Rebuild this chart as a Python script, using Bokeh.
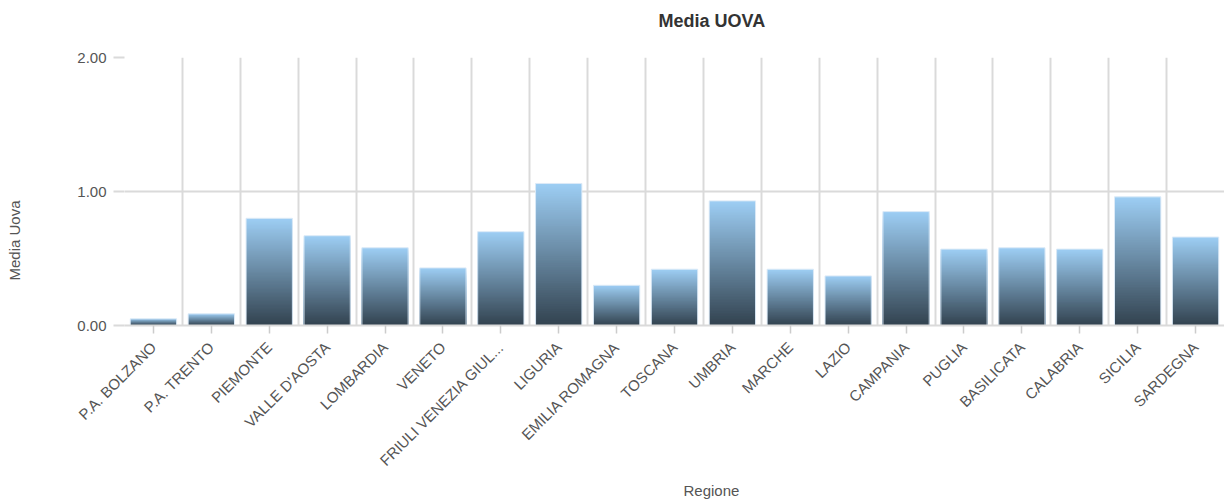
from math import pi
from bokeh.plotting import figure
from bokeh.models import FixedTicker, PrintfTickFormatter, Range1d, Title
from bokeh.embed import file_html
from bokeh.resources import INLINE

regions = ["P.A. BOLZANO", "P.A. TRENTO", "PIEMONTE", "VALLE D'AOSTA", "LOMBARDIA",
           "VENETO", "FRIULI VENEZIA GIUL...", "LIGURIA", "EMILIA ROMAGNA", "TOSCANA",
           "UMBRIA", "MARCHE", "LAZIO", "CAMPANIA", "PUGLIA", "BASILICATA",
           "CALABRIA", "SICILIA", "SARDEGNA"]
media_uova = [0.05, 0.087, 0.80, 0.67, 0.58, 0.43, 0.70, 1.06, 0.30, 0.42,
              0.93, 0.42, 0.37, 0.85, 0.57, 0.58, 0.57, 0.96, 0.66]
y_ticks = [0, 1, 2]

TITLE = "Media UOVA"
X_TITLE = "Regione"
Y_TITLE = "Media Uova"

FONT = "Liberation Sans"
GRID = "#dadada"
TOP_RGB = (0x9d, 0xce, 0xf4)
BOT_RGB = (0x32, 0x42, 0x4f)

W, H = 1224, 503
LEFT, TOP, BOTTOM = 124, 57, 178
n = len(regions)

p = figure(width=W, height=H, output_backend="svg", toolbar_location=None,
           x_range=Range1d(0, n), y_range=Range1d(0, 2),
           min_border_left=LEFT, min_border_right=0, min_border_top=TOP,
           min_border_bottom=BOTTOM)
p.title_location = None
p.outline_line_color = None
p.background_fill_color = "white"
p.border_fill_color = "white"


def spacer(gap):
    return Title(text=" ", standoff=gap, text_font_size="1px", text_color="white")


# gradient bars: overlapping bars from tallest (lightest) to shortest (darkest)
N = 80
xs, tops, cols = [], [], []
for i, v in enumerate(media_uova):
    for k in range(N - 1, -1, -1):
        t = (k + 0.5) / N
        r = round(BOT_RGB[0] + (TOP_RGB[0] - BOT_RGB[0]) * t)
        g = round(BOT_RGB[1] + (TOP_RGB[1] - BOT_RGB[1]) * t)
        b = round(BOT_RGB[2] + (TOP_RGB[2] - BOT_RGB[2]) * t)
        xs.append(i + 0.5)
        tops.append(v * (k + 1) / N)
        cols.append("#%02x%02x%02x" % (r, g, b))
p.vbar(x=xs, bottom=0, top=tops, width=0.8, fill_color=cols, line_color=None)
p.vbar(x=[i + 0.5 for i in range(n)], bottom=0, top=media_uova, width=0.8,
       fill_color=None, line_color="#dceaf7", line_width=1)

# axes
xa = p.xaxis[0]
xa.ticker = FixedTicker(ticks=[i + 0.5 for i in range(n)])
xa.major_label_overrides = {i + 0.5: r for i, r in enumerate(regions)}
xa.major_label_orientation = pi / 4
xa.major_label_text_font = FONT
xa.major_label_text_font_size = "15px"
xa.major_label_text_color = "#555555"
xa.major_label_standoff = 11
xa.major_tick_in = 0
xa.major_tick_out = 8
xa.major_tick_line_color = "#cccccc"
xa.major_tick_line_width = 1.5
xa.minor_tick_line_color = None
xa.axis_line_color = GRID
xa.axis_line_width = 2

ya = p.yaxis[0]
ya.ticker = FixedTicker(ticks=y_ticks)
ya.formatter = PrintfTickFormatter(format="%.2f")
ya.major_label_text_font = FONT
ya.major_label_text_font_size = "15px"
ya.major_label_text_color = "#555555"
ya.major_label_standoff = 7
ya.major_tick_in = 0
ya.major_tick_out = 11
ya.major_tick_line_color = GRID
ya.major_tick_line_width = 2
ya.minor_tick_line_color = None
ya.axis_line_color = None

p.xgrid.ticker = FixedTicker(ticks=list(range(n + 1)))
p.xgrid.grid_line_color = GRID
p.xgrid.grid_line_width = 2
p.ygrid.ticker = FixedTicker(ticks=y_ticks)
p.ygrid.grid_line_color = GRID
p.ygrid.grid_line_width = 2

# main title (spacer next to the frame, title outside it)
p.add_layout(spacer(22), "above")
p.add_layout(Title(text=TITLE, align="left", offset=534, standoff=4,
                   text_font=FONT, text_font_size="18px", text_font_style="bold",
                   text_color="#333333"), "above")

# axis titles
p.add_layout(Title(text=X_TITLE, align="left", offset=559, standoff=4,
                   text_font=FONT, text_font_size="15px", text_font_style="normal",
                   text_color="#555555"), "below")
p.add_layout(spacer(47), "left")
p.add_layout(Title(text=Y_TITLE, align="left", offset=45, standoff=4,
                   text_font=FONT, text_font_size="15px", text_font_style="normal",
                   text_color="#555555"), "left")

open("out.html", "w").write(file_html(p, INLINE))
